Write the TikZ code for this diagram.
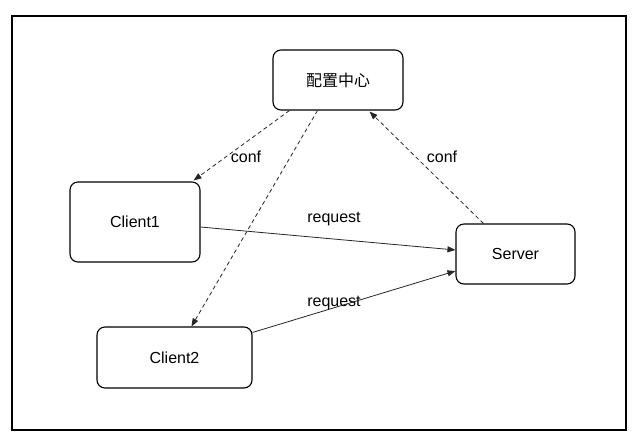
\documentclass[tikz,border=0pt]{standalone}
\usepackage{fontspec}
\setmainfont{Liberation Sans}
\newfontfamily\cjk{Noto Sans CJK SC}
\usetikzlibrary{arrows.meta,calc}
\begin{document}
\begin{tikzpicture}[x=1pt,y=-1pt,
  box/.style={draw=black,line width=1.1pt,rounded corners=8pt,fill=white,inner sep=0pt,font=\fontsize{16}{19}\selectfont},
  lbl/.style={font=\fontsize{16}{19}\selectfont,inner sep=1pt},
  conn/.style={draw=black!85,line width=0.8pt,-{Triangle[length=8pt,width=6pt]}},
  dconn/.style={conn,dash pattern=on 4pt off 3pt}]
\useasboundingbox (0,0) rectangle (642,440);
\fill[white] (0,0) rectangle (642,440);
\draw[line width=1.3pt] (12,16) rectangle (626,430);
\node[box,minimum width=130pt,minimum height=60pt] (cfg) at (338,80) {\cjk 配置中心};
\node[box,minimum width=130pt,minimum height=80pt] (c1) at (135,222) {Client1};
\node[box,minimum width=155pt,minimum height=61pt] (c2) at (174.5,357.5) {Client2};
\node[box,minimum width=119pt,minimum height=60pt] (srv) at (515.5,254) {Server};
\node[lbl] (l1) at (246,157) {conf};
\node[lbl] (l2) at (442,157) {conf};
\node[lbl] (l3) at (334,219) {request};
\node[lbl] (l4) at (334,303) {request};
\draw[dconn] ($(cfg.south west)+(17,0)$) -- ($(c1.north east)+(-7,-1)$);
\draw[dconn] ($(cfg.south west)+(45,0)$) -- ($(c2.north west)+(95,0)$);
\draw[dconn] ($(srv.north west)+(28,0)$) -- ($(cfg.south east)+(-34,1)$);
\draw[conn] ($(c1.east)+(0,5)$) -- ($(srv.west)+(0,-4)$);
\draw[conn] ($(c2.north east)+(0,6)$) -- ($(srv.west)+(0,17)$);
\end{tikzpicture}
\end{document}
